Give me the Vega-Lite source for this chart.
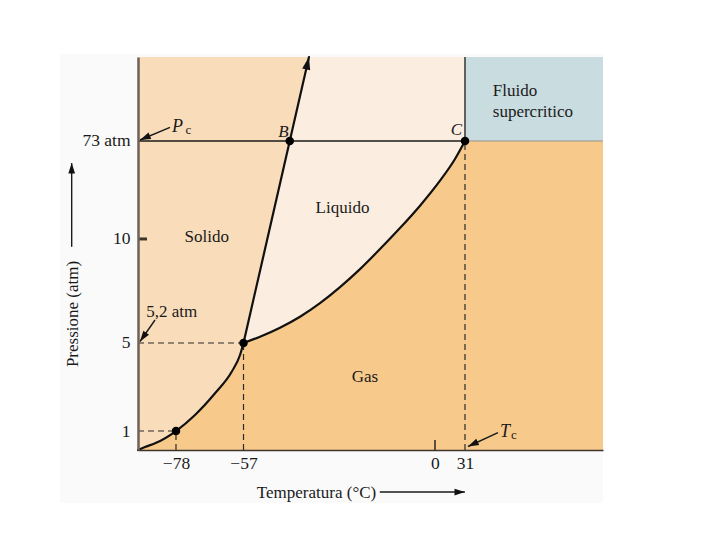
{
  "$schema": "https://vega.github.io/schema/vega-lite/v6.json",
  "width": 465,
  "height": 393,
  "autosize": {"type": "none"},
  "padding": {"left": 138, "top": 57, "right": 117, "bottom": 90},
  "background": "white",
  "config": {"view": {"stroke": null}, "font": "Liberation Serif"},
  "datasets": {
    "regioni": [
      {"regione": "sfondo", "x": -16.77, "x2": 100, "y": -13.49, "y2": 100.76},
      {"regione": "Liquido", "x": 0, "x2": 100, "y": 0, "y2": 100},
      {"regione": "Gas", "x": 70.32, "x2": 100, "y": 0, "y2": 78.63},
      {"regione": "Fluido supercritico", "x": 70.32, "x2": 100, "y": 78.63, "y2": 100}
    ],
    "curve": [
      {"ramo": "sublimazione", "x": 0, "y": 0},
      {"ramo": "sublimazione", "x": 1.5, "y": 0.76},
      {"ramo": "sublimazione", "x": 3.66, "y": 1.7},
      {"ramo": "sublimazione", "x": 8.17, "y": 4.83},
      {"ramo": "sublimazione", "x": 12.26, "y": 8.91},
      {"ramo": "sublimazione", "x": 16.56, "y": 14.43},
      {"ramo": "sublimazione", "x": 20.15, "y": 19.92},
      {"ramo": "sublimazione", "x": 21.94, "y": 24.17},
      {"ramo": "sublimazione", "x": 22.69, "y": 27.23},
      {"ramo": "vaporizzazione", "x": 22.69, "y": 27.23},
      {"ramo": "vaporizzazione", "x": 26.24, "y": 28.83},
      {"ramo": "vaporizzazione", "x": 30.54, "y": 31.12},
      {"ramo": "vaporizzazione", "x": 34.84, "y": 33.92},
      {"ramo": "vaporizzazione", "x": 39.14, "y": 37.38},
      {"ramo": "vaporizzazione", "x": 43.44, "y": 41.45},
      {"ramo": "vaporizzazione", "x": 47.74, "y": 46.03},
      {"ramo": "vaporizzazione", "x": 52.04, "y": 51.12},
      {"ramo": "vaporizzazione", "x": 56.34, "y": 56.46},
      {"ramo": "vaporizzazione", "x": 60.65, "y": 62.16},
      {"ramo": "vaporizzazione", "x": 64.95, "y": 68.52},
      {"ramo": "vaporizzazione", "x": 68.17, "y": 74.05},
      {"ramo": "vaporizzazione", "x": 70.32, "y": 78.63},
      {"ramo": "fusione", "x": 22.69, "y": 27.23},
      {"ramo": "fusione", "x": 36.77, "y": 100}
    ],
    "punti": [
      {"punto": "-78 °C, 1 atm", "x": 8.17, "y": 4.83},
      {"punto": "punto triplo", "x": 22.69, "y": 27.23},
      {"punto": "B", "x": 32.64, "y": 78.63},
      {"punto": "C", "x": 70.32, "y": 78.63}
    ],
    "linee": [
      {"tipo": "continua", "x": 0, "x2": 70.32, "y": 78.63, "y2": 78.63},
      {"tipo": "continua", "x": 70.32, "x2": 70.32, "y": 78.63, "y2": 100},
      {"tipo": "grigia", "x": 70.32, "x2": 100, "y": 78.63, "y2": 78.63},
      {"tipo": "tratteggiata", "x": 0, "x2": 22.69, "y": 27.23, "y2": 27.23},
      {"tipo": "tratteggiata", "x": 0, "x2": 8.17, "y": 4.83, "y2": 4.83},
      {"tipo": "tratteggiata", "x": 22.69, "x2": 22.69, "y": 0, "y2": 27.23},
      {"tipo": "tratteggiata", "x": 8.17, "x2": 8.17, "y": 0, "y2": 4.83},
      {"tipo": "tratteggiata", "x": 70.32, "x2": 70.32, "y": 0, "y2": 78.63},
      {"tipo": "tacca10", "x": 0, "x2": 1.94, "y": 53.7, "y2": 53.7},
      {"tipo": "tacca0", "x": 63.87, "x2": 63.87, "y": 0, "y2": 2.54},
      {"tipo": "freccia", "x": 6.88, "x2": 0.43, "y": 82.11, "y2": 78.88},
      {"tipo": "freccia", "x": 3.66, "x2": 0.43, "y": 33.08, "y2": 27.61},
      {"tipo": "freccia", "x": 77.42, "x2": 70.97, "y": 4.4, "y2": 0.89},
      {"tipo": "freccia", "x": -14.26, "x2": -14.26, "y": 51.7, "y2": 73.0},
      {"tipo": "freccia", "x": 52.0, "x2": 70.3, "y": -10.69, "y2": -10.69}
    ],
    "punte": [
      {"id": "Pc", "x": 0.43, "y": 78.88},
      {"id": "5,2", "x": 0.43, "y": 27.61},
      {"id": "Tc", "x": 70.97, "y": 0.89},
      {"id": "asse y", "x": -14.26, "y": 73.0},
      {"id": "asse x", "x": 70.3, "y": -10.69},
      {"id": "fusione", "x": 36.77, "y": 100}
    ],
    "etichette": [
      {"tipo": "fase", "testo": "Solido", "x": 14.8, "y": 54.3},
      {"tipo": "fase", "testo": "Liquido", "x": 43.98, "y": 61.5},
      {"tipo": "fase", "testo": "Gas", "x": 48.8, "y": 18.65},
      {"tipo": "fase", "testo": "5,2 atm", "x": 7.25, "y": 35.19},
      {"tipo": "riquadro", "testo": "Fluido", "x": 76.3, "y": 91.35},
      {"tipo": "riquadro", "testo": "supercritico", "x": 76.3, "y": 86.0},
      {"tipo": "punto", "testo": "B", "x": 31.25, "y": 81.0},
      {"tipo": "punto", "testo": "C", "x": 68.5, "y": 81.4},
      {"tipo": "simbolo", "testo": "P", "x": 8.49, "y": 82.27},
      {"tipo": "simbolo", "testo": "T", "x": 78.92, "y": 4.66},
      {"tipo": "pedice", "testo": "c", "x": 10.82, "y": 81.35},
      {"tipo": "pedice", "testo": "c", "x": 80.86, "y": 3.82}
    ]
  },
  "encoding": {
    "x": {
      "field": "x",
      "type": "quantitative",
      "scale": {"domain": [0, 100], "nice": false, "zero": false},
      "axis": {
        "values": [8.17, 22.69, 63.87, 70.32],
        "labelExpr": "datum.value < 10 ? '−78' : datum.value < 30 ? '−57' : datum.value < 65 ? '0' : '31'",
        "grid": false,
        "ticks": false,
        "tickSize": 0,
        "labelPadding": 4,
        "labelOverlap": false,
        "labelFlush": false,
        "labelBound": false,
        "domainColor": "#3f342c",
        "domainWidth": 1.6,
        "labelFont": "Liberation Serif",
        "labelFontSize": 17.5,
        "labelColor": "#1a1a1a",
        "title": "Temperatura (°C)",
        "titleFont": "Liberation Serif",
        "titleFontSize": 17,
        "titleFontWeight": "normal",
        "titleColor": "#1a1a1a",
        "titleX": 178,
        "titleY": 42,
        "titleAlign": "center",
        "titleBaseline": "middle",
        "zindex": 1
      }
    },
    "y": {
      "field": "y",
      "type": "quantitative",
      "scale": {"domain": [0, 100], "nice": false, "zero": false},
      "axis": {
        "values": [4.83, 27.23, 53.7, 78.63],
        "labelExpr": "datum.value > 70 ? '73 atm' : datum.value > 50 ? '10' : datum.value > 20 ? '5' : '1'",
        "grid": false,
        "ticks": false,
        "tickSize": 0,
        "labelPadding": 8,
        "labelOverlap": false,
        "labelFlush": false,
        "labelBound": false,
        "domainColor": "#6e6158",
        "domainWidth": 2.5,
        "labelFont": "Liberation Serif",
        "labelFontSize": 17.5,
        "labelColor": "#1a1a1a",
        "title": "Pressione (atm)",
        "titleFont": "Liberation Serif",
        "titleFontSize": 17,
        "titleFontWeight": "normal",
        "titleColor": "#1a1a1a",
        "titleAngle": 270,
        "titleX": -66,
        "titleY": 256.5,
        "titleAlign": "center",
        "titleBaseline": "middle",
        "zindex": 1
      }
    }
  },
  "layer": [
    {
      "data": {"name": "regioni"},
      "mark": {"type": "rect"},
      "encoding": {
        "x2": {"field": "x2"},
        "y2": {"field": "y2"},
        "color": {
          "field": "regione",
          "type": "nominal",
          "scale": {
            "domain": ["sfondo", "Liquido", "Gas", "Fluido supercritico", "Solido"],
            "range": ["#fafafa", "#fbeee0", "#f7c98b", "#c9dcdf", "#f9ddba"]
          },
          "legend": null
        }
      }
    },
    {
      "data": {"name": "curve"},
      "transform": [{"filter": "datum.ramo != 'vaporizzazione'"}],
      "mark": {"type": "area", "orient": "horizontal", "interpolate": "linear", "opacity": 1},
      "encoding": {
        "x2": {"datum": 0},
        "color": {"datum": "Solido", "type": "nominal"}
      }
    },
    {
      "data": {"name": "curve"},
      "transform": [{"filter": "datum.ramo == 'sublimazione' || (datum.ramo == 'vaporizzazione' && datum.x > 22.7)"}],
      "mark": {"type": "area", "orient": "vertical", "interpolate": "monotone", "opacity": 1},
      "encoding": {
        "y2": {"datum": 0},
        "color": {"datum": "Gas", "type": "nominal"}
      }
    },
    {
      "data": {"name": "linee"},
      "transform": [{"filter": "datum.tipo == 'continua'"}],
      "mark": {"type": "rule", "color": "#1a1a1a", "strokeWidth": 1.3},
      "encoding": {"x2": {"field": "x2"}, "y2": {"field": "y2"}}
    },
    {
      "data": {"name": "linee"},
      "transform": [{"filter": "datum.tipo == 'grigia'"}],
      "mark": {"type": "rule", "color": "#9a9590", "strokeWidth": 1},
      "encoding": {"x2": {"field": "x2"}, "y2": {"field": "y2"}}
    },
    {
      "data": {"name": "linee"},
      "transform": [{"filter": "datum.tipo == 'tratteggiata'"}],
      "mark": {"type": "rule", "color": "#2a2a2a", "strokeWidth": 1.2, "strokeDash": [6, 4]},
      "encoding": {"x2": {"field": "x2"}, "y2": {"field": "y2"}}
    },
    {
      "data": {"name": "linee"},
      "transform": [{"filter": "datum.tipo == 'tacca10'"}],
      "mark": {"type": "rule", "color": "#3f342c", "strokeWidth": 3},
      "encoding": {"x2": {"field": "x2"}, "y2": {"field": "y2"}}
    },
    {
      "data": {"name": "linee"},
      "transform": [{"filter": "datum.tipo == 'tacca0' || datum.tipo == 'freccia'"}],
      "mark": {"type": "rule", "color": "#1a1a1a", "strokeWidth": 1.4},
      "encoding": {"x2": {"field": "x2"}, "y2": {"field": "y2"}}
    },
    {
      "data": {"name": "curve"},
      "mark": {"type": "line", "color": "#111111", "strokeWidth": 2.2, "interpolate": "monotone", "strokeJoin": "round", "strokeCap": "round"},
      "encoding": {"detail": {"field": "ramo", "type": "nominal"}}
    },
    {
      "data": {"name": "punti"},
      "mark": {"type": "circle", "size": 72, "color": "#000000", "opacity": 1}
    },
    {
      "data": {"name": "punte"},
      "transform": [{"filter": "datum.id == 'Pc'"}],
      "mark": {"type": "point", "shape": "M0,0L0.55,1.7L-0.55,1.7Z", "filled": true, "color": "#111111", "opacity": 1, "strokeWidth": 0, "size": 160, "angle": 247}
    },
    {
      "data": {"name": "punte"},
      "transform": [{"filter": "datum.id == '5,2'"}],
      "mark": {"type": "point", "shape": "M0,0L0.55,1.7L-0.55,1.7Z", "filled": true, "color": "#111111", "opacity": 1, "strokeWidth": 0, "size": 160, "angle": 215}
    },
    {
      "data": {"name": "punte"},
      "transform": [{"filter": "datum.id == 'Tc'"}],
      "mark": {"type": "point", "shape": "M0,0L0.55,1.7L-0.55,1.7Z", "filled": true, "color": "#111111", "opacity": 1, "strokeWidth": 0, "size": 160, "angle": 245}
    },
    {
      "data": {"name": "punte"},
      "transform": [{"filter": "datum.id == 'asse y'"}],
      "mark": {"type": "point", "shape": "M0,0L0.55,1.7L-0.55,1.7Z", "filled": true, "color": "#111111", "opacity": 1, "strokeWidth": 0, "size": 150, "angle": 0}
    },
    {
      "data": {"name": "punte"},
      "transform": [{"filter": "datum.id == 'asse x'"}],
      "mark": {"type": "point", "shape": "M0,0L0.55,1.7L-0.55,1.7Z", "filled": true, "color": "#111111", "opacity": 1, "strokeWidth": 0, "size": 150, "angle": 90}
    },
    {
      "data": {"name": "punte"},
      "transform": [{"filter": "datum.id == 'fusione'"}],
      "mark": {"type": "point", "shape": "M0,0L0.55,1.7L-0.55,1.7Z", "filled": true, "color": "#111111", "opacity": 1, "strokeWidth": 0, "size": 220, "angle": 12.8}
    },
    {
      "data": {"name": "etichette"},
      "transform": [{"filter": "datum.tipo == 'fase'"}],
      "mark": {"type": "text", "font": "Liberation Serif", "fontSize": 17, "color": "#1a1a1a", "align": "center", "baseline": "middle"},
      "encoding": {"text": {"field": "testo"}}
    },
    {
      "data": {"name": "etichette"},
      "transform": [{"filter": "datum.tipo == 'riquadro'"}],
      "mark": {"type": "text", "font": "Liberation Serif", "fontSize": 17, "color": "#1a1a1a", "align": "left", "baseline": "middle"},
      "encoding": {"text": {"field": "testo"}}
    },
    {
      "data": {"name": "etichette"},
      "transform": [{"filter": "datum.tipo == 'punto'"}],
      "mark": {"type": "text", "font": "Liberation Serif", "fontSize": 17, "fontStyle": "italic", "color": "#1a1a1a", "align": "center", "baseline": "middle"},
      "encoding": {"text": {"field": "testo"}}
    },
    {
      "data": {"name": "etichette"},
      "transform": [{"filter": "datum.tipo == 'simbolo'"}],
      "mark": {"type": "text", "font": "Liberation Serif", "fontSize": 18, "fontStyle": "italic", "color": "#1a1a1a", "align": "center", "baseline": "middle"},
      "encoding": {"text": {"field": "testo"}}
    },
    {
      "data": {"name": "etichette"},
      "transform": [{"filter": "datum.tipo == 'pedice'"}],
      "mark": {"type": "text", "font": "Liberation Serif", "fontSize": 13, "color": "#1a1a1a", "align": "center", "baseline": "middle"},
      "encoding": {"text": {"field": "testo"}}
    }
  ]
}
